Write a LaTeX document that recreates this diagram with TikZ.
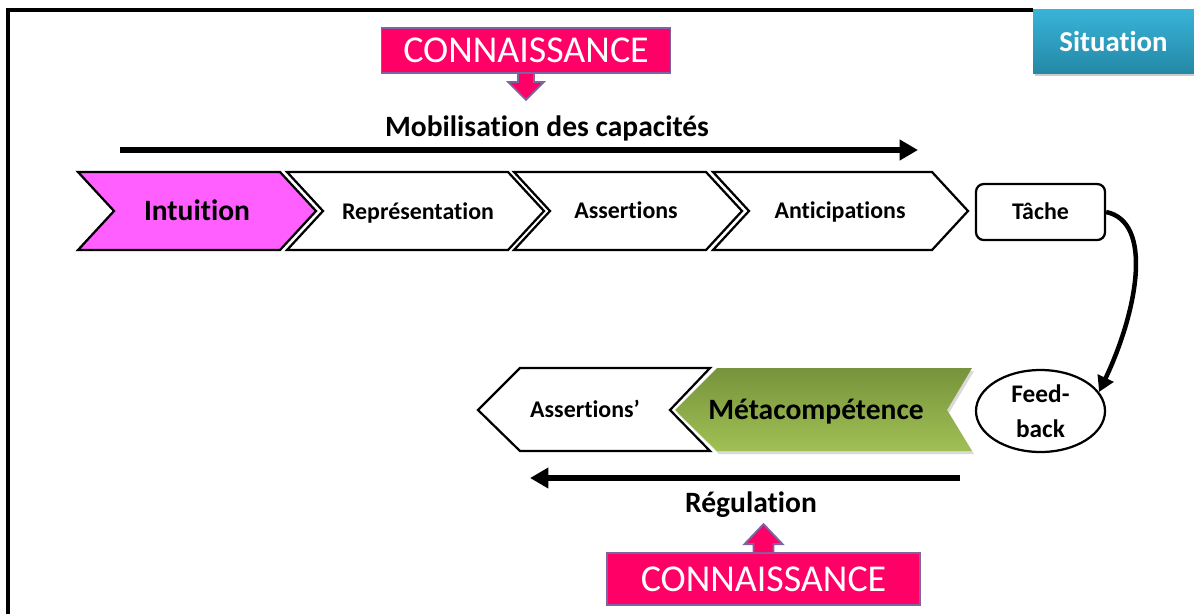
\documentclass[tikz,border=0pt]{standalone}
\usepackage{fontspec}
\setmainfont{Carlito}[Ligatures=NoCommon]
\usetikzlibrary{arrows.meta,shapes.geometric}

\definecolor{connpink}{RGB}{255,0,102}
\definecolor{connborder}{RGB}{128,100,162}
\definecolor{intupink}{RGB}{255,95,255}
\definecolor{metadark}{RGB}{119,147,60}
\definecolor{metalight}{RGB}{160,192,84}
\definecolor{situtop}{RGB}{56,180,216}
\definecolor{situbot}{RGB}{36,136,166}

\def\dep{36}
\def\px{0.025cm}

\begin{document}
\begin{tikzpicture}[x=\px, y=-\px, line join=miter,
                    >={Triangle[length=13pt,width=14pt]},
                    chev/.style={draw=black, line width=1.6pt},
                    lbl/.style={font=\fontsize{17}{24}\selectfont\bfseries,
                                text height=11pt, text depth=0pt},
                    big/.style={font=\fontsize{21}{25}\selectfont\bfseries,
                                text height=13.5pt, text depth=0pt},
                    conn/.style={fill=connpink, draw=connborder, line width=1.3pt},
                    conntext/.style={font=\fontsize{27}{30}\selectfont, text=white},
                    flow/.style={line width=3.6pt, ->}
                   ]
\useasboundingbox (0,0) rectangle (1194,614);

% frame and situation
\draw [line width=2.2pt] (8,614) -- (8,10) -- (1033,10);
\fill [black!20] (1035,12) rectangle (1196,76);
\node [top color=situtop, bottom color=situbot, minimum width=161*\px,
       minimum height=64*\px, inner sep=0pt, text=white,
       font=\fontsize{20.5}{24}\selectfont\bfseries] (situation) at (1113.5,41) {Situation};

% top knowledge box
\node [conn, conntext, minimum width=289*\px, minimum height=45*\px, inner sep=0pt]
      (conntop) at (526,50.5) {CONNAISSANCE};
\filldraw [conn] (conntop.south) ++(-8,0) -- ++(0,8) -- ++(-10,0) -- ++(18,18)
      -- ++(18,-18) -- ++(-10,0) -- ++(0,-8);

% mobilisation
\node [big] (mobil) at (547,127) {Mobilisation des capacités};
\coordinate (mobA) at (120,150);
\coordinate (mobB) at (918,150);
\draw [flow] (mobA) -- (mobB);

\foreach \xa/\xb/\col in {78/316/intupink, 287/544/white, 514/742/white, 713/968/white}{
    \filldraw [chev, fill=\col] (\xa,172) -- ({\xb-\dep},172) -- (\xb,211)
        -- ({\xb-\dep},250) -- (\xa,250) -- ({\xa+\dep},211) -- cycle;
}
\node [big] (intuition) at (197,211) {Intuition};
\node [lbl] (repres) at (418,212) {Représentation};
\node [lbl] (assert) at (626,211) {Assertions};
\node [lbl] (anticip) at (840,211) {Anticipations};

% task and feedback
\node [lbl, draw, line width=1.6pt, rounded corners=5.5pt, minimum width=129*\px,
       minimum height=56*\px] (tache) at (1040.5,212) {Tâche};
\node [font=\fontsize{18}{25}\selectfont\bfseries, draw, ellipse, line width=1.6pt,
       minimum width=129*\px, minimum height=82*\px, inner sep=0pt,
       align=center] (feed) at (1040.5,411) {Feed-\\back};
\draw [flow, line width=3.2pt, >={Triangle[length=11pt,width=12pt]}]
      (tache.east) .. controls +(48,10) and +(38,-80) .. (feed.18);

% regulation
\filldraw [chev, fill=white] (478,410) -- (520,368) -- (710,368) -- (670,410)
      -- (710,451) -- (520,451) -- cycle;
\fill [black!15] (677,413) -- (719,371) -- (974,371) -- (949,413) -- (974,454)
      -- (719,454) -- cycle;
\shade [top color=metadark, bottom color=metalight] (675,410) -- (717,368)
      -- (972,368) -- (947,410) -- (972,451) -- (717,451) -- cycle;
\node [lbl] (assert2) at (585,410) {Assertions’};
\node [big] (metacomp) at (816,410) {Métacompétence};

\coordinate (regA) at (960,478);
\coordinate (regB) at (530,478);
\draw [flow] (regA) -- (regB);
\node [big] (regul) at (751,503) {Régulation};

% bottom knowledge box
\node [conn, conntext, minimum width=313*\px, minimum height=52*\px, inner sep=0pt]
      (connbot) at (763.5,579) {CONNAISSANCE};
\filldraw [conn] (connbot.north) ++(-10,0) -- ++(0,-8) -- ++(-9,0) -- ++(19,-20)
      -- ++(19,20) -- ++(-9,0) -- ++(0,8);
\end{tikzpicture}
\end{document}
